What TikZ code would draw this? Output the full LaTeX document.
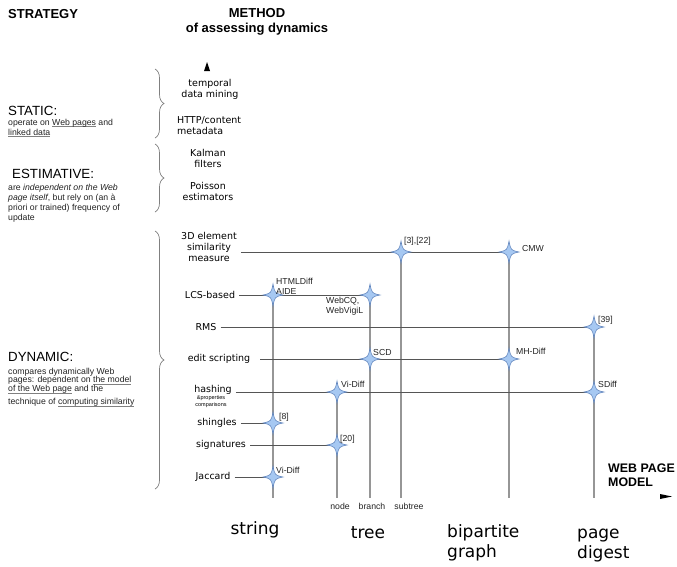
\documentclass[tikz,border=0pt]{standalone}
\usepackage{fontspec}
\setmainfont{Liberation Sans}
\newfontfamily\dejavu{DejaVu Sans}
\newcommand{\uln}[1]{\setbox0\hbox{#1}\rlap{\color{gray}\rule[-1.5pt]{\wd0}{0.45pt}}#1}
\definecolor{starblue}{RGB}{166, 200, 242}
\definecolor{staredge}{RGB}{100, 135, 190}
\definecolor{axisgray}{RGB}{150, 150, 150}
\definecolor{linegray}{RGB}{85, 85, 85}
\definecolor{textgray}{RGB}{35, 35, 35}
\usetikzlibrary{decorations.pathreplacing}

\begin{document}
\begin{tikzpicture}[x=1pt, y=-1pt,
  meth/.style={font=\dejavu\fontsize{9.5}{11}\selectfont, align=center, inner sep=0pt},
  lab/.style={font=\fontsize{8.7}{10}\selectfont, anchor=west, inner sep=0pt, align=left, text=textgray},
  big/.style={font=\dejavu\fontsize{17}{20}\selectfont, inner sep=0pt, align=left},
  strat/.style={font=\fontsize{13.3}{15}\selectfont, anchor=west, inner sep=0pt},
  desc/.style={font=\fontsize{8.7}{10}\selectfont, anchor=west, inner sep=0pt, align=left, text=textgray},
  starpath/.style={fill=starblue, draw=staredge, line width=0.6pt},
  hline/.style={draw=linegray, line width=0.7pt, shorten <=4pt},
  vline/.style={draw=axisgray, line width=1.1pt},
  bracegray/.style={draw=gray, line width=0.7pt, decorate, decoration={brace, amplitude=9pt}}]
  \useasboundingbox (0,0) rectangle (677,566);

  % Headings
  \node[font=\bfseries\fontsize{13}{15}\selectfont, anchor=west, inner sep=0pt] (strategy) at (8,14) {STRATEGY};
  \node[font=\bfseries\fontsize{13}{15}\selectfont, align=center, inner sep=0pt] (method) at (257,22) {METHOD\\of assessing dynamics};
  \fill (204,71) -- (207,62) -- (210,71) -- cycle;

  % Strategies
  \node[strat] (static) at (8,111) {STATIC:};
  \node[desc] (staticD) at (8,128) {operate on \uln{Web pages} and\\\uln{linked data}};
  \node[strat] (estim) at (12,174) {ESTIMATIVE:};
  \node[desc] (estimD) at (8,203) {are \textit{independent on the Web}\\\textit{page itself}, but rely on (an à\\priori or trained) frequency of\\update};
  \node[strat] (dynamic) at (8,357) {DYNAMIC:};
  \node[desc, font=\fontsize{8.7}{8.8}\selectfont] (dynamicD) at (8,387) {compares dynamically Web\\pages: dependent on \uln{the model}\\\uln{of the Web page} and the\\[4pt]technique of \uln{computing similarity}};

  \draw[bracegray] (155,69) -- (155,138);
  \draw[bracegray] (155,144) -- (155,212);
  \draw[bracegray] (155,231) -- (155,489);

  % Methods
  \node[meth] (tdm) at (210,89) {temporal\\data mining};
  \node[meth, align=left, anchor=west] (http) at (177,126) {HTTP/content\\metadata};
  \node[meth] (kalman) at (208,158) {Kalman\\filters};
  \node[meth] (poisson) at (208,191) {Poisson\\estimators};
  \node[meth] (sim3d) at (209,247) {3D element\\similarity\\measure};
  \node[meth] (lcs) at (210,295) {LCS-based};
  \node[meth] (rms) at (206,327) {RMS};
  \node[meth] (edit) at (219,359) {edit scripting};
  \node[meth] (hash) at (213,390) {hashing};
  \node[meth, font=\fontsize{5.5}{7}\selectfont] (hashsub) at (211,402) {\&properties\\comparisons};
  \node[meth] (shingles) at (217,423) {shingles};
  \node[meth] (sig) at (221,445) {signatures};
  \node[meth] (jac) at (213,477) {Jaccard};

  % Crossings of method and model
  \coordinate (s3dA) at (401,252);
  \coordinate (s3dB) at (509,252);
  \coordinate (lcsA) at (273,295);
  \coordinate (lcsB) at (370,295);
  \coordinate (rmsA) at (594,327);
  \coordinate (editA) at (370,359);
  \coordinate (editB) at (509,359);
  \coordinate (hashA) at (337,392);
  \coordinate (hashB) at (594,392);
  \coordinate (shinA) at (273,423);
  \coordinate (sigA) at (337,445);
  \coordinate (jacA) at (273,477);

  % Model axis
  \coordinate (bStr) at (273,498);
  \coordinate (bNode) at (337,498);
  \coordinate (bBranch) at (370,498);
  \coordinate (bSub) at (401,498);
  \coordinate (bBip) at (509,498);
  \coordinate (bDig) at (594,498);

  \draw[vline] (lcsA) -- (bStr);
  \draw[vline] (hashA) -- (bNode);
  \draw[vline] (lcsB) -- (bBranch);
  \draw[vline] (s3dA) -- (bSub);
  \draw[vline] (s3dB) -- (bBip);
  \draw[vline] (rmsA) -- (bDig);
  \draw[hline] (sim3d.east |- s3dB) -- (s3dB);
  \draw[hline] (lcs.east |- lcsB) -- (lcsB);
  \draw[hline] (rms.east |- rmsA) -- (rmsA);
  \draw[hline, shorten <=10pt] (edit.east |- editB) -- (editB);
  \draw[hline] (hash.east |- hashB) -- (hashB);
  \draw[hline] (shingles.east |- shinA) -- (shinA);
  \draw[hline] (sig.east |- sigA) -- (sigA);
  \draw[hline] (jac.east |- jacA) -- (jacA);

  % Stars
  \foreach \s in {s3dA, s3dB, lcsA, lcsB, rmsA, editA, editB, hashA, hashB, shinA, sigA, jacA}
    \draw[starpath, shift={(\s)}] (0,-11) .. controls (1.8,-1.8) .. (10,0) .. controls (1.8,1.8) .. (0,11)
      .. controls (-1.8,1.8) .. (-10,0) .. controls (-1.8,-1.8) .. (0,-11) -- cycle;

  \node[lab] (l3d) at (404,241) {[3],[22]};
  \node[lab] (lcmw) at (522,248) {CMW};
  \node[lab] (lhtml) at (276,286) {HTMLDiff\\AIDE};
  \node[lab] (lweb) at (326,306) {WebCQ,\\WebVigiL};
  \node[lab] (l39) at (598,320) {[39]};
  \node[lab] (lscd) at (373,352) {SCD};
  \node[lab] (lmh) at (516,351) {MH-Diff};
  \node[lab] (lvi) at (341,384) {Vi-Diff};
  \node[lab] (lsdiff) at (598,384) {SDiff};
  \node[lab] (l8) at (279,417) {[8]};
  \node[lab] (l20) at (340,439) {[20]};
  \node[lab] (lvi2) at (276,470) {Vi-Diff};

  \node[lab, anchor=center] (tnode) at (340,506) {node};
  \node[lab, anchor=center] (tbranch) at (372,506) {branch};
  \node[lab, anchor=center] (tsub) at (409,506) {subtree};

  \node[big] (string) at (255,530) {string};
  \node[big] (tree) at (368,533) {tree};
  \node[big, anchor=west] (bip) at (447,543) {bipartite\\graph};
  \node[big, anchor=west] (digest) at (577,545) {page\\digest};

  \node[font=\bfseries\fontsize{12.4}{14}\selectfont, anchor=west, align=left, inner sep=0pt] (wpm) at (608,475) {WEB PAGE\\MODEL};
  \fill (660,494) -- (672,496.5) -- (660,499) -- cycle;
\end{tikzpicture}
\end{document}
